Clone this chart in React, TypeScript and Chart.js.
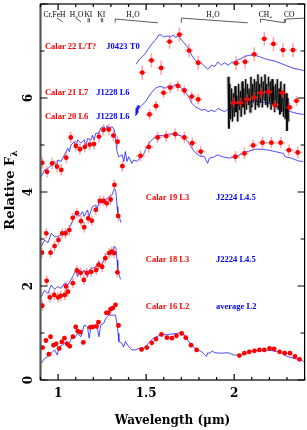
import React, { useEffect, useRef } from "react";
import { Chart, registerables } from "chart.js";
Chart.register(...registerables);

// ---- red points (wavelength µm, relative flux incl. offset)
const calar16: number[][] = [[0.912,0.69],[0.931,0.84],[0.948,0.55],[0.957,0.92],[0.974,0.74],[0.989,0.77],[1.006,0.67],[1.021,0.81],[1.036,0.89],[1.051,0.77],[1.066,0.72],[1.084,0.92],[1.100,1.13],[1.111,1.04],[1.126,1.02],[1.143,0.80],[1.182,1.12],[1.197,1.13],[1.218,1.14],[1.229,1.23],[1.274,1.43],[1.285,1.43],[1.298,1.51],[1.311,1.53],[1.326,1.60],[1.343,1.16],[1.474,0.65],[1.504,0.69],[1.532,0.79],[1.556,0.87],[1.587,0.97],[1.618,0.90],[1.646,0.89],[1.672,0.94],[1.702,0.99],[1.725,0.90],[1.755,0.74],[1.787,0.64],[2.030,0.52],[2.058,0.57],[2.086,0.60],[2.115,0.62],[2.143,0.64],[2.171,0.64],[2.201,0.67],[2.227,0.66],[2.258,0.60],[2.287,0.57],[2.317,0.57],[2.345,0.50],[2.371,0.44]];
const calar18: number[][] = [[0.910,1.58],[0.935,2.11],[0.953,1.76],[0.978,1.81],[1.000,1.76],[1.015,1.79],[1.038,1.81],[1.045,1.99],[1.056,1.88],[1.084,2.06],[1.107,2.33],[1.128,2.28],[1.146,2.13],[1.163,2.28],[1.188,2.30],[1.216,2.34],[1.230,2.45],[1.250,2.41],[1.268,2.59],[1.290,2.70],[1.305,2.73],[1.318,2.70],[1.337,2.29]];
const calar19: number[][] = [[0.908,2.71],[0.933,3.12],[0.957,2.71],[0.980,2.85],[1.002,2.98],[1.023,3.12],[1.042,3.12],[1.064,3.19],[1.083,3.45],[1.107,3.55],[1.130,3.38],[1.148,3.25],[1.171,3.44],[1.191,3.39],[1.214,3.62],[1.237,3.81],[1.258,3.81],[1.276,3.76],[1.298,3.84],[1.320,4.15],[1.341,3.49]];
const calar20J: number[][] = [[0.910,4.62],[0.937,4.43],[0.966,4.61],[0.994,4.54],[1.018,4.47],[1.046,4.73],[1.072,5.16],[1.101,4.98],[1.124,4.91],[1.152,4.96],[1.180,5.01],[1.204,5.02],[1.232,5.18],[1.258,5.32],[1.288,5.33],[1.314,5.20],[1.338,5.07],[1.365,4.55]];
const calar20HK: number[][] = [[1.468,4.77],[1.515,4.96],[1.565,5.16],[1.614,5.19],[1.665,5.23],[1.717,5.16],[1.762,5.04],[1.810,4.86],[2.007,4.75],[2.058,4.82],[2.108,4.99],[2.161,5.05],[2.211,5.05],[2.264,5.05],[2.311,4.89],[2.361,4.84]];
const calar21: number[][] = [[1.519,5.65],[1.556,5.83],[1.599,6.11],[1.637,6.22],[1.680,6.26],[1.717,6.16],[1.759,6.03],[1.796,5.97],[1.998,5.90],[2.036,5.90],[2.073,5.97],[2.114,6.01],[2.152,6.11],[2.195,6.13],[2.232,5.85],[2.274,6.11],[2.315,5.80],[2.354,5.94]];
const calar22: number[][] = [[1.478,6.54],[1.530,6.80],[1.585,6.64],[1.633,7.20],[1.689,7.35],[1.744,7.01],[1.796,6.75],[2.011,6.74],[2.062,6.77],[2.114,6.93],[2.171,7.26],[2.223,7.15],[2.277,7.02],[2.334,7.02]];

// ---- blue template spectra
const averageL2: number[][] = [[0.905,0.36],[0.923,0.46],[0.942,0.50],[0.961,0.57],[0.980,0.64],[0.995,0.53],[1.008,0.71],[1.026,0.74],[1.045,0.82],[1.064,0.78],[1.083,0.96],[1.092,0.89],[1.111,0.99],[1.130,0.92],[1.148,1.17],[1.167,1.13],[1.176,0.89],[1.186,1.10],[1.204,1.13],[1.223,1.10],[1.232,0.92],[1.242,1.17],[1.260,1.21],[1.270,1.31],[1.289,1.38],[1.307,1.38],[1.326,1.38],[1.335,1.17],[1.341,0.99],[1.345,0.82],[1.363,0.78],[1.372,0.70],[1.382,0.82],[1.401,0.71],[1.420,0.64],[1.438,0.64],[1.457,0.67],[1.485,0.67],[1.513,0.78],[1.541,0.89],[1.571,0.94],[1.590,0.98],[1.618,0.96],[1.646,0.98],[1.674,0.99],[1.703,1.02],[1.721,0.94],[1.749,0.78],[1.777,0.67],[1.815,0.60],[1.830,0.55],[1.843,0.50],[1.850,0.58],[1.862,0.57],[1.875,0.62],[1.890,0.58],[1.927,0.57],[1.965,0.58],[2.002,0.53],[2.040,0.53],[2.077,0.58],[2.115,0.62],[2.161,0.64],[2.208,0.63],[2.246,0.60],[2.274,0.60],[2.283,0.53],[2.302,0.50],[2.339,0.46],[2.377,0.43],[2.395,0.39]];
const j2224a: number[][] = [[0.905,1.77],[0.923,1.91],[0.942,1.84],[0.961,2.02],[0.980,1.93],[0.998,1.99],[1.017,1.95],[1.036,2.06],[1.055,2.02],[1.073,2.13],[1.083,2.20],[1.101,2.34],[1.111,2.20],[1.120,2.34],[1.139,2.27],[1.148,2.34],[1.167,2.20],[1.176,2.34],[1.195,2.38],[1.214,2.41],[1.232,2.52],[1.242,2.41],[1.260,2.55],[1.270,2.66],[1.289,2.73],[1.307,2.73],[1.320,2.85],[1.328,2.80],[1.335,2.55],[1.339,2.34],[1.350,2.20],[1.354,2.14]];
const j2224b: number[][] = [[0.905,2.84],[0.923,2.98],[0.942,2.92],[0.961,3.12],[0.980,3.05],[0.998,3.05],[1.017,3.09],[1.036,3.16],[1.055,3.19],[1.073,3.30],[1.083,3.40],[1.101,3.55],[1.120,3.48],[1.139,3.58],[1.148,3.48],[1.167,3.62],[1.176,3.48],[1.195,3.69],[1.214,3.72],[1.223,3.65],[1.232,3.79],[1.251,3.76],[1.260,3.86],[1.270,3.83],[1.289,3.90],[1.307,3.94],[1.320,4.08],[1.328,4.01],[1.335,3.69],[1.339,3.55],[1.350,3.44],[1.357,3.35]];
const j1228a: number[][] = [[0.905,4.33],[0.923,4.47],[0.942,4.50],[0.961,4.57],[0.980,4.65],[0.989,4.50],[0.998,4.68],[1.017,4.65],[1.036,4.79],[1.055,4.93],[1.064,4.86],[1.073,5.00],[1.092,5.07],[1.101,4.93],[1.111,5.11],[1.129,5.04],[1.148,5.11],[1.158,4.96],[1.167,5.14],[1.186,5.11],[1.195,5.21],[1.204,5.11],[1.214,5.25],[1.232,5.25],[1.242,5.36],[1.261,5.39],[1.270,5.32],[1.279,5.41],[1.289,5.36],[1.307,5.39],[1.320,5.32],[1.328,5.07],[1.335,4.86],[1.345,4.75],[1.364,4.79],[1.373,4.65],[1.382,4.86],[1.391,4.65],[1.401,4.75],[1.419,4.61],[1.429,4.68],[1.448,4.65],[1.466,4.73],[1.485,4.80],[1.504,4.96],[1.523,5.07],[1.541,5.14],[1.569,5.20],[1.597,5.20],[1.626,5.23],[1.654,5.24],[1.682,5.21],[1.710,5.18],[1.738,5.07],[1.756,4.96],[1.774,4.86],[1.802,4.77],[1.831,4.75],[1.849,4.61],[1.859,4.72],[1.887,4.75],[1.905,4.79],[1.934,4.75],[1.971,4.72],[2.008,4.75],[2.046,4.82],[2.083,4.87],[2.121,4.91],[2.158,4.91],[2.196,4.89],[2.233,4.86],[2.280,4.82],[2.289,4.75],[2.327,4.72],[2.364,4.66],[2.392,4.65]];
const j1228b: number[][] = [[1.440,5.62],[1.443,5.78],[1.446,5.64],[1.449,5.82],[1.452,5.68],[1.455,5.85],[1.459,5.78],[1.478,5.85],[1.496,5.92],[1.515,6.03],[1.534,6.13],[1.553,6.21],[1.571,6.24],[1.590,6.24],[1.609,6.21],[1.628,6.26],[1.646,6.24],[1.665,6.28],[1.684,6.24],[1.702,6.21],[1.721,6.13],[1.740,6.03],[1.759,5.89],[1.777,5.82],[1.796,5.78],[1.815,5.74],[1.834,5.76],[1.852,5.71],[1.871,5.74],[1.890,5.71],[1.908,5.78],[1.927,5.74],[1.946,5.71],[1.965,5.76],[2.002,5.82],[2.040,5.89],[2.077,5.92],[2.114,5.94],[2.152,5.92],[2.190,5.89],[2.227,5.85],[2.264,5.82],[2.283,5.74],[2.321,5.71],[2.358,5.67],[2.395,5.65]];
const j0423: number[][] = [[1.444,6.72],[1.459,6.81],[1.478,6.88],[1.496,6.95],[1.515,7.06],[1.534,7.16],[1.553,7.23],[1.571,7.34],[1.586,7.34],[1.599,7.30],[1.618,7.32],[1.637,7.30],[1.656,7.34],[1.665,7.29],[1.684,7.32],[1.702,7.23],[1.721,7.15],[1.740,7.06],[1.759,6.91],[1.777,6.81],[1.796,6.75],[1.815,6.74],[1.834,6.67],[1.852,6.61],[1.871,6.70],[1.890,6.67],[1.908,6.77],[1.927,6.70],[1.946,6.75],[1.965,6.70],[1.983,6.75],[2.002,6.77],[2.021,6.81],[2.040,6.84],[2.058,6.88],[2.086,6.91],[2.114,6.91],[2.143,6.88],[2.171,6.84],[2.199,6.81],[2.227,6.79],[2.264,6.74],[2.302,6.68],[2.339,6.63],[2.377,6.60],[2.395,6.58]];

// ---- black K-band spectrum of Calar 21
const calar21K: number[][] = [[1.965,6.45],[1.970,5.35],[1.975,6.30],[1.980,5.55],[1.985,6.20],[1.990,5.50],[1.995,6.10],[2.000,5.60],[2.005,6.25],[2.010,5.70],[2.015,6.05],[2.020,5.50],[2.025,6.30],[2.030,5.75],[2.035,6.15],[2.040,5.60],[2.045,6.35],[2.050,5.80],[2.055,6.20],[2.060,5.65],[2.065,6.40],[2.070,5.75],[2.075,6.30],[2.080,5.85],[2.085,6.20],[2.090,5.70],[2.095,6.45],[2.100,5.80],[2.105,6.30],[2.110,5.90],[2.115,6.40],[2.120,5.75],[2.125,6.35],[2.130,5.85],[2.135,6.50],[2.140,5.80],[2.145,6.30],[2.150,5.90],[2.155,6.45],[2.160,5.80],[2.165,6.35],[2.170,5.95],[2.175,6.50],[2.180,5.85],[2.185,6.30],[2.190,5.80],[2.195,6.45],[2.200,5.90],[2.205,6.35],[2.210,5.75],[2.215,6.40],[2.220,5.85],[2.225,6.25],[2.230,5.70],[2.235,6.30],[2.240,5.80],[2.245,6.40],[2.250,5.75],[2.255,6.20],[2.260,5.65],[2.265,6.35],[2.270,5.70],[2.275,6.15],[2.280,5.60],[2.285,6.30],[2.290,5.55],[2.295,6.10],[2.300,5.30],[2.305,6.00],[2.310,5.50]];

// ---- axis tick labels
const xTickLabels = [1, 1.5, 2];
const yTickLabels = [0, 2, 4, 6];

// ---- labels: [text, x(µm), y(flux), colour]
const specLabels: [string, number, number, string][] = [
  ["Calar 22 L/T?", 0.925, 7.085, "#ff0000"], ["J0423 T0", 1.274, 7.085, "#0000ff"],
  ["Calar 21 L7", 0.925, 6.106, "#ff0000"], ["J1228 L6", 1.217, 6.106, "#0000ff"],
  ["Calar 20 L6", 0.925, 5.596, "#ff0000"], ["J1228 L6", 1.217, 5.596, "#0000ff"],
  ["Calar 19 L3", 1.498, 3.872, "#ff0000"], ["J2224 L4.5", 1.897, 3.872, "#0000ff"],
  ["Calar 18 L3", 1.498, 2.553, "#ff0000"], ["J2224 L4.5", 1.897, 2.553, "#0000ff"],
  ["Calar 16 L2", 1.498, 1.553, "#ff0000"], ["average L2", 1.897, 1.553, "#0000ff"],
];
// feature labels: [text, centre x(µm)]
const featureLabels: [string, number][] = [
  ["Cr,FeH", 0.979], ["H\u2082O", 1.105], ["KI", 1.172], ["KI", 1.245],
  ["H\u2082O", 1.425], ["H\u2082O", 1.880], ["CH\u2084", 2.177], ["CO", 2.313],
];
// feature marks: polylines [x(µm), y(flux)]
const featureMarks: number[][][] = [
  [[0.993, 7.70], [1.026, 7.62]],
  [[1.099, 7.70], [1.131, 7.62]],
  [[1.170, 7.70], [1.170, 7.61]], [[1.178, 7.70], [1.178, 7.61]],
  [[1.245, 7.70], [1.245, 7.61]], [[1.253, 7.70], [1.253, 7.61]],
  [[1.324, 7.60], [1.324, 7.68], [1.566, 7.60]],
  [[1.700, 7.60], [1.700, 7.70], [2.077, 7.60]],
  [[2.150, 7.60], [2.150, 7.68], [2.285, 7.60], [2.285, 7.68]],
  [[2.292, 7.60], [2.292, 7.68], [2.400, 7.70]],
];

const toXY = (a: number[][]) => a.map(([x, y]) => ({ x, y }));
const RED = "#ff0000";
const BLUE = "rgba(20,20,255,0.85)";
const SERIF = "'DejaVu Serif', serif";

function redSet(d: number[][], errX: number, errY: number) {
  return { data: toXY(d), showLine: false, pointRadius: 2.4, pointHoverRadius: 2.4, pointBackgroundColor: RED, pointBorderColor: RED, pointBorderWidth: 0, errX, errY } as any;
}
function lineSet(d: number[][], color: string, width: number) {
  return { data: toXY(d), showLine: true, pointRadius: 0, borderColor: color, borderWidth: width, tension: 0 } as any;
}

const overlay = {
  id: "overlay",
  afterDatasetDraw(chart: any, args: any) {
    // error bars drawn right after the last line dataset, beneath the red points
    if (args.index !== 7) return;
    const { ctx, scales: { x, y } } = chart;
    ctx.save();
    ctx.strokeStyle = "rgba(255,90,90,0.55)";
    ctx.lineWidth = 1.5;
    chart.data.datasets.forEach((ds: any) => {
      if (ds.errX === undefined) return;
      ds.data.forEach((p: any) => {
        const px = x.getPixelForValue(p.x), py = y.getPixelForValue(p.y);
        const dx = x.getPixelForValue(p.x + ds.errX) - px;
        const dy = py - y.getPixelForValue(p.y + ds.errY);
        ctx.beginPath();
        ctx.moveTo(px - dx, py); ctx.lineTo(px + dx, py);
        ctx.moveTo(px, py - dy); ctx.lineTo(px, py + dy);
        ctx.stroke();
      });
    });
    ctx.restore();
  },
  afterDraw(chart: any) {
    const { ctx, chartArea: a, scales: { x, y } } = chart;
    ctx.save();
    ctx.strokeStyle = "#000";
    ctx.lineWidth = 1.2;
    ctx.strokeRect(a.left, a.top, a.right - a.left, a.bottom - a.top);
    ctx.strokeStyle = "#555";
    ctx.lineWidth = 2;
    ctx.beginPath(); ctx.moveTo(a.left, a.top); ctx.lineTo(a.left, a.bottom); ctx.stroke();
    ctx.strokeStyle = "#000";
    ctx.lineWidth = 1.2;
    ctx.beginPath();
    for (let i = 9; i <= 24; i++) {
      const px = x.getPixelForValue(i / 10);
      const len = i % 5 === 0 ? 6 : 3;
      ctx.moveTo(px, a.bottom); ctx.lineTo(px, a.bottom - len);
      ctx.moveTo(px, a.top); ctx.lineTo(px, a.top + len);
    }
    for (let v = 0; v <= 8; v++) {
      const py = y.getPixelForValue(v);
      const len = v % 2 === 0 ? 7 : 4;
      ctx.moveTo(a.left, py); ctx.lineTo(a.left + len, py);
      ctx.moveTo(a.right, py); ctx.lineTo(a.right - len, py);
    }
    ctx.stroke();
    ctx.fillStyle = "#000";
    ctx.font = "bold 12px " + SERIF;
    ctx.textAlign = "center";
    ctx.textBaseline = "middle";
    xTickLabels.forEach((v) => ctx.fillText(String(v), x.getPixelForValue(v), 394));
    yTickLabels.forEach((v) => {
      const py = y.getPixelForValue(v);
      ctx.save(); ctx.translate(29, py); ctx.rotate(-Math.PI / 2);
      ctx.fillText(String(v), 0, 0);
      ctx.restore();
    });
    ctx.fillText("Wavelength (\u03bcm)", (a.left + a.right) / 2, 421);
    ctx.save();
    ctx.translate(11, 190); ctx.rotate(-Math.PI / 2);
    ctx.font = "bold 13px " + SERIF;
    const t1 = "Relative F";
    const w1 = ctx.measureText(t1).width;
    ctx.font = "bold 9px " + SERIF;
    const w2 = ctx.measureText("\u03bb").width;
    ctx.textAlign = "left";
    ctx.font = "bold 13px " + SERIF;
    ctx.fillText(t1, -(w1 + w2) / 2, 0);
    ctx.font = "bold 9px " + SERIF;
    ctx.fillText("\u03bb", -(w1 + w2) / 2 + w1, 4);
    ctx.restore();
    ctx.font = "bold 8.5px 'Liberation Serif', serif";
    ctx.textAlign = "left";
    specLabels.forEach(([t, vx, vy, c]) => {
      ctx.fillStyle = c;
      ctx.fillText(t, x.getPixelForValue(vx), y.getPixelForValue(vy));
    });
    ctx.fillStyle = "#000";
    ctx.font = "7.5px 'Liberation Serif', serif";
    ctx.textAlign = "center";
    featureLabels.forEach(([t, vx]) => ctx.fillText(t, x.getPixelForValue(vx), y.getPixelForValue(7.77)));
    ctx.strokeStyle = "#333";
    ctx.lineWidth = 0.8;
    featureMarks.forEach((pl) => {
      ctx.beginPath();
      pl.forEach(([vx, vy], i) => {
        const px = x.getPixelForValue(vx), py = y.getPixelForValue(vy);
        if (i === 0) ctx.moveTo(px, py); else ctx.lineTo(px, py);
      });
      ctx.stroke();
    });
    ctx.restore();
  },
};

export default function App() {
  const ref = useRef<HTMLCanvasElement>(null);
  useEffect(() => {
    document.body.style.margin = "0";
    const chart = new Chart(ref.current!, {
      type: "scatter",
      data: {
        datasets: [
          redSet(calar22, 0.022, 0.15),
          redSet(calar21, 0.022, 0.11),
          redSet(calar20HK, 0.025, 0.12),
          redSet(calar20J, 0.004, 0.12),
          redSet(calar19, 0.004, 0.11),
          redSet(calar18, 0.004, 0.11),
          redSet(calar16, 0.004, 0.05),
          lineSet(calar21K, "#000", 0.9),
          lineSet(calar21K, "rgba(0,0,0,0.3)", 3),
          lineSet(j0423, BLUE, 0.9),
          lineSet(j1228b, BLUE, 0.9),
          lineSet(j1228a, BLUE, 0.9),
          lineSet(j2224b, BLUE, 0.9),
          lineSet(j2224a, BLUE, 0.9),
          lineSet(averageL2, BLUE, 0.9),
        ],
      },
      options: {
        animation: false,
        responsive: false,
        devicePixelRatio: 1,
        layout: { padding: { top: 4, right: 1, left: 0.5, bottom: 0 } },
        plugins: { legend: { display: false }, tooltip: { enabled: false } },
        scales: {
          x: {
            type: "linear", min: 0.9, max: 2.4,
            afterFit: (s: any) => { s.height = 50; },
            grid: { display: false },
            border: { display: false },
            ticks: { display: false },
          },
          y: {
            type: "linear", min: 0, max: 8,
            afterFit: (s: any) => { s.width = 40; },
            grid: { display: false },
            border: { display: false },
            ticks: { display: false, stepSize: 2 },
          },
        },
      } as any,
      plugins: [overlay],
    });
    return () => chart.destroy();
  }, []);
  return (
    <div style={{ width: 307, height: 430 }}>
      <canvas ref={ref} width={307} height={430} style={{ display: "block" }} />
    </div>
  );
}
